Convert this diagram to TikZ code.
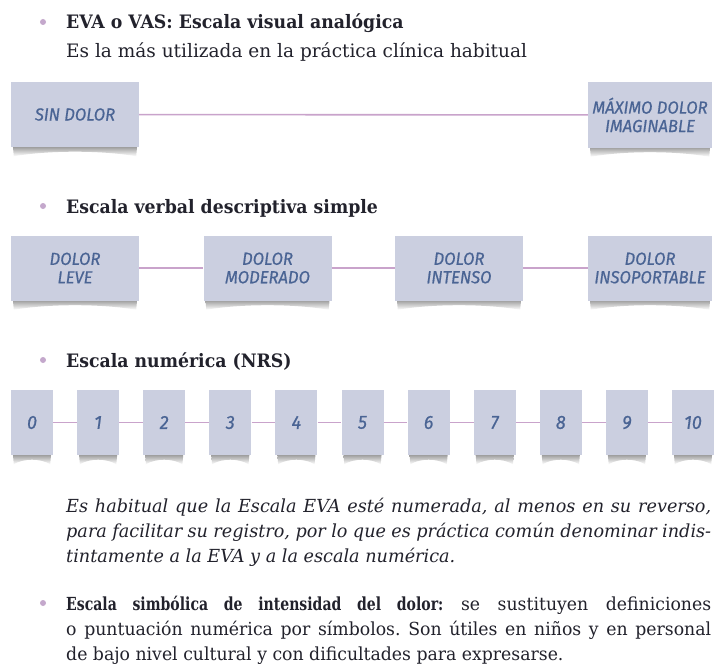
\documentclass[tikz,border=0pt]{standalone}
\usepackage{fontspec}
\setmainfont{DejaVu Serif}[FakeStretch=0.96, BoldFeatures={FakeStretch=0.78}, ItalicFeatures={FakeStretch=0.98}]
\newfontfamily\headfont{DejaVu Serif}[FakeStretch=0.935]
\newfontfamily\subfont{DejaVu Serif}[FakeStretch=1.0]
\newfontfamily\labelfont{Fira Sans}[FakeStretch=0.95, FakeBold=0.6]
\usetikzlibrary{calc}
\frenchspacing

\pgfdeclarelayer{paper}
\pgfdeclarelayer{shadows}
\pgfsetlayers{paper,shadows,main}

\definecolor{boxfill}{HTML}{CBCFE0}
\definecolor{boxtext}{HTML}{4A6494}
\definecolor{linkline}{HTML}{C9A3CB}
\definecolor{bulletdot}{HTML}{C4A8CC}
\definecolor{bodytext}{HTML}{22222C}

\tikzset{
  scalebox/.style={fill=boxfill, text=boxtext, align=center, inner sep=0pt,
    minimum height=65pt, font=\labelfont\itshape\fontsize{17.5}{18.5}\selectfont},
  widebox/.style={scalebox, minimum width=128pt},
  numbox/.style={scalebox, minimum width=42pt,
    font=\labelfont\itshape\fontsize{19}{20}\selectfont},
  link/.style={draw=linkline, line width=1.6pt},
  bulletmark/.style={fill=bulletdot},
  heading/.style={anchor=base west, inner sep=0pt, text=bodytext,
    font=\headfont\bfseries\fontsize{18.5}{25}\selectfont},
  bodyline/.style={anchor=base west, inner sep=0pt, text=bodytext,
    font=\subfont\fontsize{18.5}{25}\selectfont},
  para/.style={anchor=base west, inner sep=0pt, text=bodytext,
    text width=645pt, align=justify, font=\frenchspacing\fontsize{18}{25}\selectfont},
}

% curled paper shadow under a box
\newcommand\curlshadow[1]{%
  \begin{pgfonlayer}{shadows}
    \shade[top color=black!45, bottom color=white]
      ($(#1.south west)+(2,-2)$) -- ($(#1.south east)+(-2,-2)$)
      -- ($(#1.south east)+(-3,9)$)
      .. controls ($(#1.south west)!0.7!(#1.south east)+(0,3)$)
             and ($(#1.south west)!0.3!(#1.south east)+(0,3)$)
      .. ($(#1.south west)+(3,9)$) -- cycle;
  \end{pgfonlayer}}

\begin{document}
\begin{tikzpicture}[x=1pt, y=-1pt]
  \useasboundingbox (0,0) rectangle (714,666);
  \begin{pgfonlayer}{paper}
    \fill[white] (0,0) rectangle (714,666);
  \end{pgfonlayer}

  % EVA / VAS
  \fill[bulletmark] (43,22) circle (3);
  \node[heading] (evatitle) at (66,29) {EVA o VAS: Escala visual analógica};
  \node[bodyline] (evasub) at (66,58) {Es la más utilizada en la práctica clínica habitual};

  \node[widebox] (sin) at (75,114.5) {SIN DOLOR};
  \node[widebox, minimum width=124pt] (max) at (650,115) {MÁXIMO DOLOR\\IMAGINABLE};
  \draw[link] (sin) -- (max);
  \curlshadow{sin}
  \curlshadow{max}

  % verbal scale
  \fill[bulletmark] (43,206) circle (3);
  \node[heading] (verbtitle) at (66,213) {Escala verbal descriptiva simple};

  \node[widebox] (leve) at (75,268) {DOLOR\\LEVE};
  \node[widebox] (moderado) at (267.5,268) {DOLOR\\MODERADO};
  \node[widebox] (intenso) at (459,268) {DOLOR\\INTENSO};
  \node[widebox, minimum width=124pt] (insop) at (650,268) {DOLOR\\INSOPORTABLE};
  \draw[link] (leve) -- (moderado);
  \draw[link] (moderado) -- (intenso);
  \draw[link] (intenso) -- (insop);
  \foreach \b in {leve,moderado,intenso,insop} {\curlshadow{\b}}

  % numeric scale
  \fill[bulletmark] (43,360) circle (3);
  \node[heading] (numtitle) at (66,367) {Escala numérica (NRS)};

  \foreach \i in {0,...,10} {
    \node[numbox] (n\i) at ({32+66.1*\i},422.5) {\i};
    \curlshadow{n\i}
  }
  \foreach \i [evaluate=\i as \j using int(\i+1)] in {0,...,9} {
    \draw[link] (n\i) -- (n\j);
  }

  \node[para, font=\frenchspacing\itshape\fontsize{18}{25}\selectfont] (note) at (66,512)
    {Es habitual que la Escala EVA esté numerada, al menos en su reverso,\linebreak
     para facilitar su registro, por lo que es práctica común denominar indis-\linebreak
     tintamente a la EVA y a la escala numérica.};

  % symbolic scale
  \fill[bulletmark] (43,603) circle (3);
  \node[para] (symb) at (66,610)
    {\textbf{Escala simbólica de intensidad del dolor:} se sustituyen definiciones\linebreak
     o puntuación numérica por símbolos. Son útiles en niños y en personal\linebreak
     de bajo nivel cultural y con dificultades para expresarse.};
\end{tikzpicture}
\end{document}
